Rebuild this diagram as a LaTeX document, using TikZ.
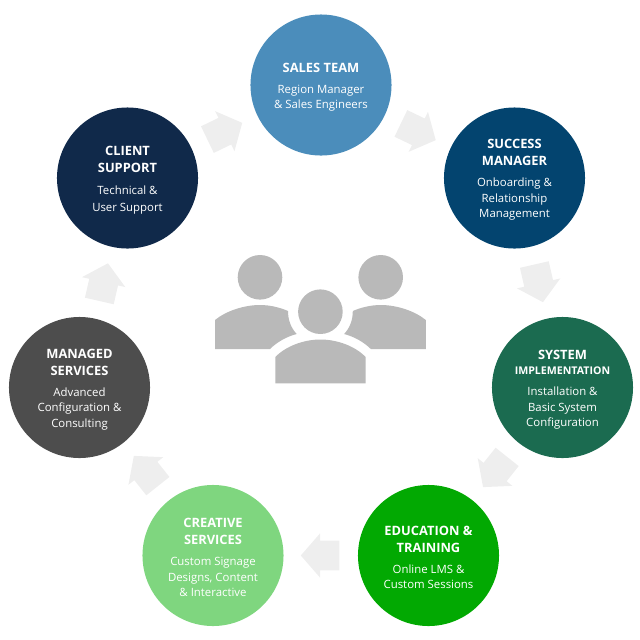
\documentclass[tikz,border=0pt]{standalone}
\usepackage{fontspec}
\setmainfont{Open Sans}
\usetikzlibrary{positioning,shapes.arrows}
\definecolor{salesblue}{HTML}{4B8DBB}
\definecolor{successblue}{HTML}{03446F}
\definecolor{systemgreen}{HTML}{1B6B50}
\definecolor{educationgreen}{HTML}{02A902}
\definecolor{creativegreen}{HTML}{7FD67F}
\definecolor{managedgrey}{HTML}{4D4D4D}
\definecolor{clientnavy}{HTML}{10294A}
\definecolor{flowgrey}{HTML}{EEEEEE}
\definecolor{peoplegrey}{HTML}{B9B9B9}
\newcommand{\ttl}[1]{{\fontsize{9.15pt}{11pt}\selectfont\bfseries #1}}
\newcommand{\ttlfirst}[1]{\rule{0pt}{9.5pt}\ttl{#1}}
\newcommand{\sml}[1]{{\fontsize{7.55pt}{11pt}\selectfont\bfseries #1}}
\tikzset{
  team/.style={circle, minimum size=100.3pt, inner sep=0pt, text=white, align=center,
    font=\fontsize{8.1pt}{11pt}\selectfont},
  flow/.style={single arrow, sloped, allow upside down, fill=flowgrey, inner xsep=0pt, inner ysep=10.3pt,
    minimum height=27.5pt, single arrow head extend=5.3pt, single arrow tip angle=98,
    anchor=tail, xshift=-13.5pt},
  people/.style={fill=peoplegrey}
}
\begin{document}
\begin{tikzpicture}[x=0.025cm, y=-0.025cm]
\useasboundingbox (0,0) rectangle (640,640);

\node[team, fill=salesblue] (sales) at (321,85) {\ttlfirst{SALES TEAM}\\[4pt]Region Manager\\\& Sales Engineers};
\node[team, fill=successblue] (success) at (514.5,178) {\ttlfirst{SUCCESS}\\[1.1pt]\ttl{MANAGER}\\[4pt]Onboarding \&\\Relationship\\Management};
\node[team, fill=systemgreen] (system) at (562.5,387.5) {\ttlfirst{SYSTEM}\\\sml{IMPLEMENTATION}\\[4pt]Installation \&\\Basic System\\Configuration};
\node[team, fill=educationgreen] (education) at (428.5,555.5) {\ttlfirst{EDUCATION \&}\\[1.1pt]\ttl{TRAINING}\\[4pt]Online LMS \&\\Custom Sessions};
\node[team, fill=creativegreen] (creative) at (213,555.5) {\ttlfirst{CREATIVE}\\[1.1pt]\ttl{SERVICES}\\[4pt]Custom Signage\\Designs, Content\\\& Interactive};
\node[team, fill=managedgrey] (managed) at (79.5,387.5) {\ttlfirst{MANAGED}\\[1.1pt]\ttl{SERVICES}\\[4pt]Advanced\\Configuration \&\\Consulting};
\node[team, fill=clientnavy] (client) at (127.5,178) {\ttlfirst{CLIENT}\\[1.1pt]\ttl{SUPPORT}\\[4.3pt]Technical \&\\[1.1pt]User Support};

\path
	(sales) -- node[flow] (arrowA) {} (success)
	(success) -- node[flow] (arrowB) {} (system)
	(system) -- node[flow] (arrowC) {} (education)
	(education) -- node[flow] (arrowD) {} (creative)
	(creative) -- node[flow] (arrowE) {} (managed)
	(managed) -- node[flow] (arrowF) {} (client)
	(client) -- node[flow] (arrowG) {} (sales)
;

% people in the middle
\fill[people] (260,277.3) circle (22.3);
\fill[people] (380.7,277.3) circle (22.3);
\fill[people] (320.4,311.7) circle (22.3);
\fill[people] (275.3,383.3) -- (275.3,357) .. controls (286,346) and (304,339.5) .. (320.4,339.5)
	.. controls (337,339.5) and (355,346) .. (365.6,357) -- (365.6,383.3) -- cycle;
\fill[people] (215,349) -- (215,320) .. controls (226,311) and (244,305) .. (260,305)
	.. controls (270,305) and (280,307.5) .. (288,311) .. controls (288,320) and (291,328) .. (296.7,334)
	.. controls (287,336.5) and (277,342) .. (270,349) -- cycle;
\fill[people] (425.8,349) -- (425.8,320) .. controls (414.8,311) and (396.8,305) .. (380.8,305)
	.. controls (370.8,305) and (360.8,307.5) .. (352.8,311) .. controls (352.8,320) and (349.8,328) .. (344.1,334)
	.. controls (353.8,336.5) and (363.8,342) .. (370.8,349) -- cycle;
\end{tikzpicture}
\end{document}
